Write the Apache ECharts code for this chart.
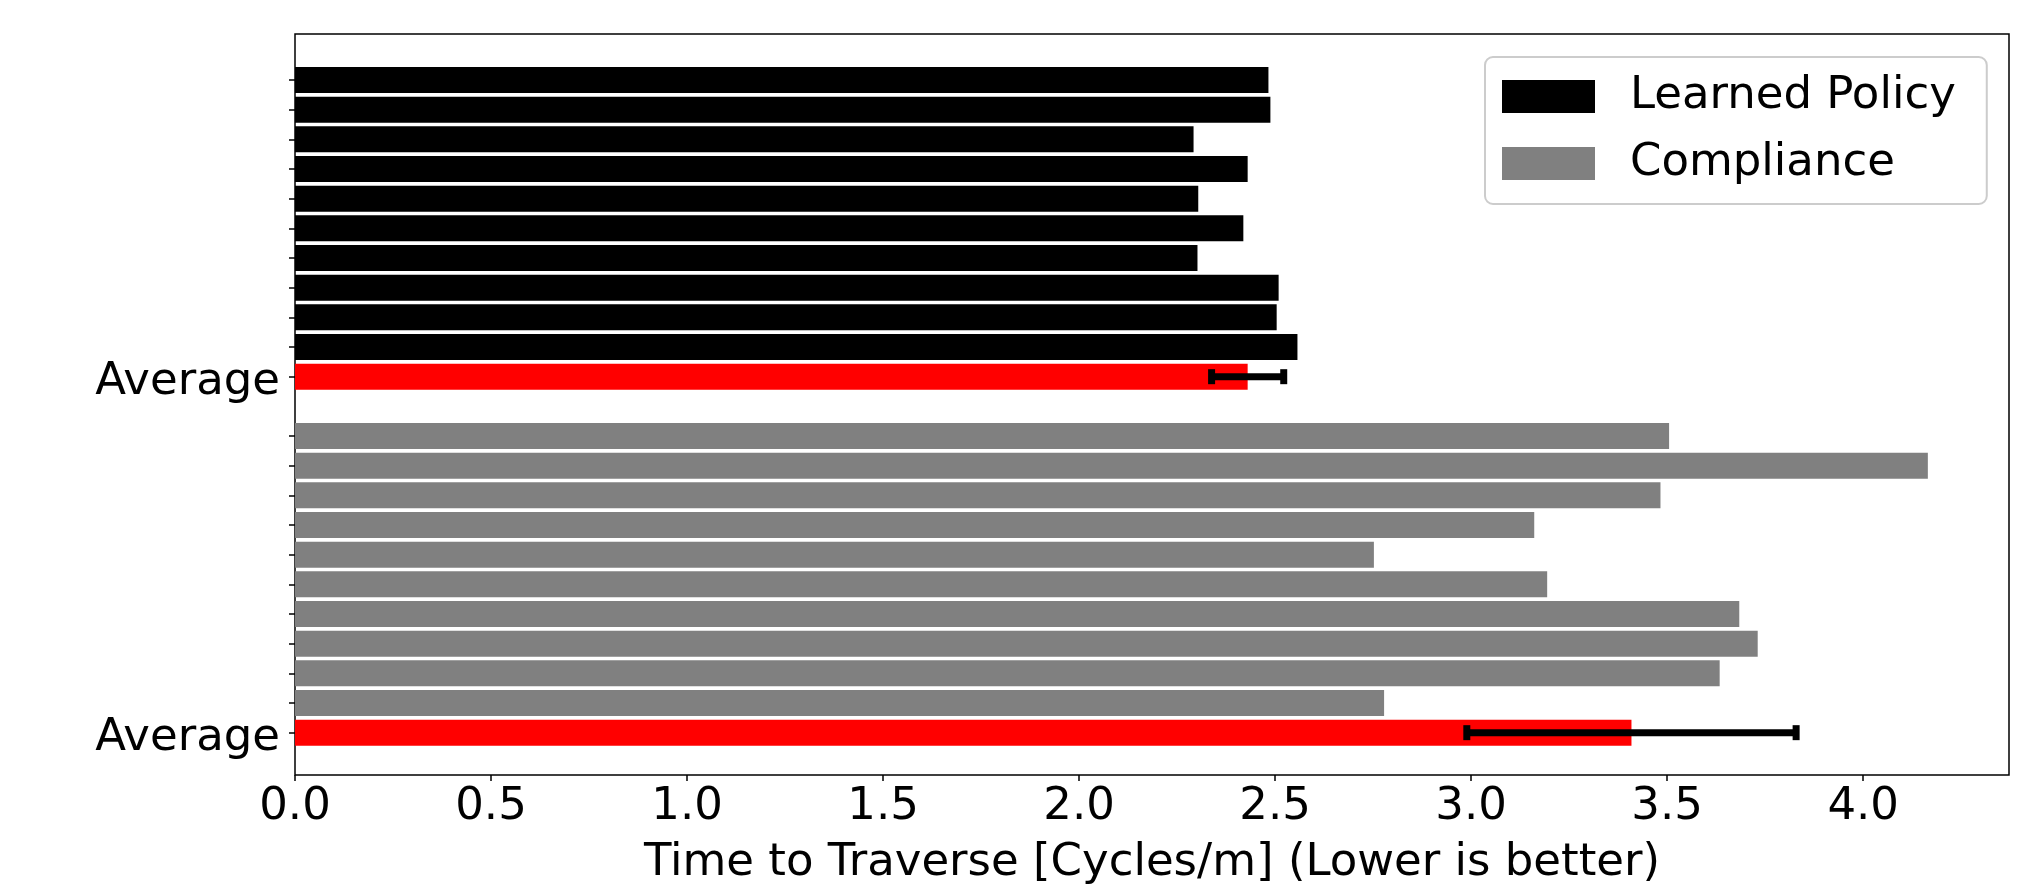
<!DOCTYPE html>
<html>
<head>
<meta charset="utf-8">
<script src="https://cdn.jsdelivr.net/npm/echarts@6/dist/echarts.min.js"></script>
<style>
    html, body { margin: 0; padding: 0; background: #fff; }
    #chart { width: 2042px; height: 891px; }
</style>
</head>
<body>
<div id="chart"></div>
<script>
// values
var policyRuns = [2.483, 2.488, 2.292, 2.430, 2.304, 2.419, 2.302, 2.509, 2.504, 2.557];
var complianceRuns = [3.505, 4.165, 3.483, 3.161, 2.752, 3.194, 3.684, 3.731, 3.634, 2.778];
var averages = [2.430, 3.409];
var averageErrors = [0.092, 0.420];
var seriesNames = ['Learned Policy', 'Compliance'];
var xTicks = [0, 0.5, 1.0, 1.5, 2.0, 2.5, 3.0, 3.5, 4.0];
var xMax = 4.372;

var FONT = 'DejaVu Sans';

// category rows: 10 runs + average, one empty row, 10 runs + average
var categories = [];
for (var i = 0; i < policyRuns.length; i++) categories.push('policy ' + (i + 1));
categories.push('policy Average');
categories.push('gap');
for (var j = 0; j < complianceRuns.length; j++) categories.push('compliance ' + (j + 1));
categories.push('compliance Average');

var gapIndex = policyRuns.length + 1;

var policyData = [];
var complianceData = [];
categories.forEach(function () { policyData.push('-'); complianceData.push('-'); });
policyRuns.forEach(function (v, k) { policyData[k] = v; });
policyData[policyRuns.length] = {value: averages[0], itemStyle: {color: '#ff0000'}};
complianceRuns.forEach(function (v, k) { complianceData[gapIndex + 1 + k] = v; });
complianceData[categories.length - 1] = {value: averages[1], itemStyle: {color: '#ff0000'}};

var errorData = [
    [averages[0] - averageErrors[0], averages[0] + averageErrors[0], policyRuns.length],
    [averages[1] - averageErrors[1], averages[1] + averageErrors[1], categories.length - 1]
];

var chart = echarts.init(document.getElementById('chart'));

var option = {
    animation: false,
    backgroundColor: '#fff',
    textStyle: {fontFamily: FONT},
    grid: [
        // frame + x axis
        {left: 295, top: 34, width: 1714, height: 745, show: true, borderColor: '#000', borderWidth: 1.5, backgroundColor: 'transparent'},
        // bars
        {left: 295, top: 65.2, width: 1714, height: 682.3}
    ],
    legend: {
        data: seriesNames,
        orient: 'vertical',
        left: 1485,
        top: 57,
        padding: [17, 31, 18, 17],
        itemWidth: 93,
        itemHeight: 33,
        itemGap: 22,
        icon: 'rect',
        backgroundColor: '#fff',
        borderColor: '#cccccc',
        borderWidth: 2,
        borderRadius: 8,
        textStyle: {fontFamily: FONT, fontSize: 45, color: '#000', padding: [0, 0, 0, 30]}
    },
    xAxis: [
        {
            gridIndex: 0,
            type: 'value',
            min: 0,
            max: xMax,
            axisLine: {show: false},
            splitLine: {show: false},
            axisTick: {show: true, length: 6, lineStyle: {color: '#000', width: 1.5}, customValues: xTicks},
            axisLabel: {
                fontFamily: FONT, fontSize: 45, color: '#000', margin: 10,
                customValues: xTicks,
                formatter: function (v) { return v.toFixed(1); }
            },
            name: 'Time to Traverse [Cycles/m] (Lower is better)',
            nameLocation: 'middle',
            nameGap: 66,
            nameTextStyle: {fontFamily: FONT, fontSize: 45, color: '#000'}
        },
        {gridIndex: 1, type: 'value', min: 0, max: xMax, show: false}
    ],
    yAxis: [
        {gridIndex: 0, type: 'value', show: false},
        {
            gridIndex: 1,
            type: 'category',
            inverse: true,
            data: categories,
            axisLine: {show: false},
            splitLine: {show: false},
            axisTick: {
                show: true, length: 6, alignWithLabel: true,
                lineStyle: {color: '#000', width: 1.5},
                interval: function (idx) { return idx !== gapIndex; }
            },
            axisLabel: {
                interval: 0,
                margin: 15,
                formatter: function (v) { return /Average$/.test(v) ? '{t|Average}' : ''; },
                rich: {
                    t: {fontFamily: FONT, fontSize: 45, color: '#000', padding: [12, 0, 0, 0]}
                }
            }
        }
    ],
    series: [
        {
            name: seriesNames[0],
            type: 'bar',
            xAxisIndex: 1,
            yAxisIndex: 1,
            barWidth: 26,
            barGap: '-100%',
            itemStyle: {color: '#000000'},
            data: policyData
        },
        {
            name: seriesNames[1],
            type: 'bar',
            xAxisIndex: 1,
            yAxisIndex: 1,
            barWidth: 26,
            barGap: '-100%',
            itemStyle: {color: '#808080'},
            data: complianceData
        },
        {
            type: 'custom',
            xAxisIndex: 1,
            yAxisIndex: 1,
            encode: {x: [0, 1], y: 2},
            data: errorData,
            z: 5,
            renderItem: function (params, api) {
                var lo = api.coord([api.value(0), api.value(2)]);
                var hi = api.coord([api.value(1), api.value(2)]);
                var cap = 7.5;
                var st = {stroke: '#000', lineWidth: 7};
                return {
                    type: 'group',
                    children: [
                        {type: 'line', shape: {x1: lo[0], y1: lo[1], x2: hi[0], y2: hi[1]}, style: st},
                        {type: 'line', shape: {x1: lo[0], y1: lo[1] - cap, x2: lo[0], y2: lo[1] + cap}, style: st},
                        {type: 'line', shape: {x1: hi[0], y1: hi[1] - cap, x2: hi[0], y2: hi[1] + cap}, style: st}
                    ]
                };
            }
        }
    ]
};

chart.setOption(option);
</script>
</body>
</html>
